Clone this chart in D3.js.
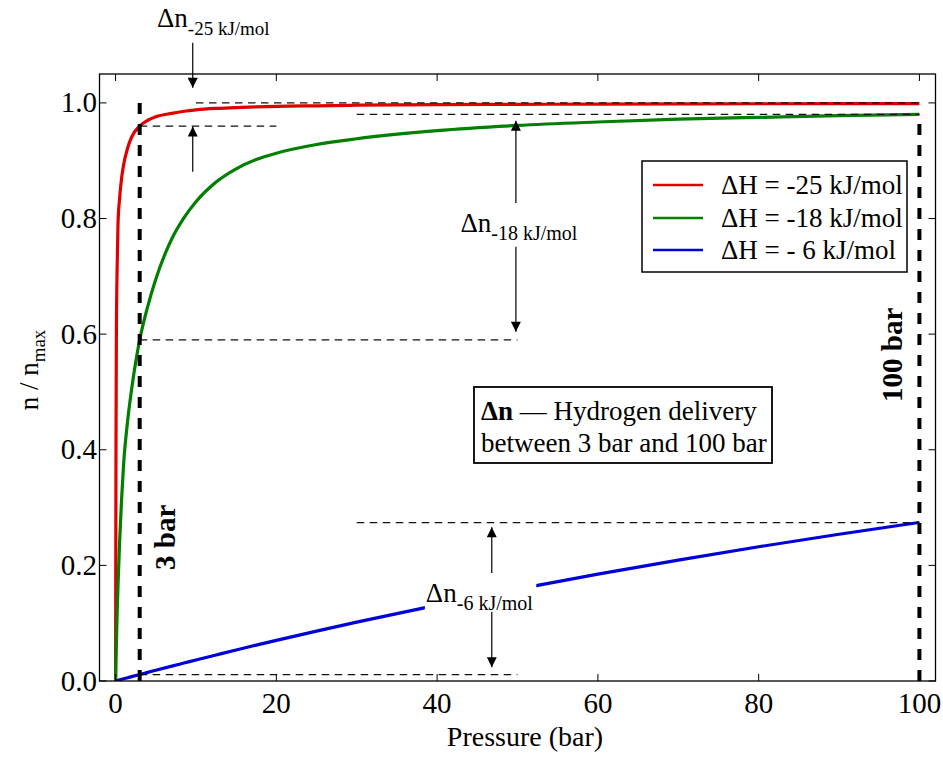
<!DOCTYPE html>
<html><head><meta charset="utf-8">
<script src="https://cdn.jsdelivr.net/npm/d3@7"></script>
<style>
body{margin:0;background:#fff;}
svg{display:block;}
text{font-family:"Liberation Serif","Times New Roman",serif;fill:#000;}
</style>
</head><body>
<svg id="c" width="943" height="759"></svg>
<script>
// ---------- data ----------
const pressure = [0, 0.05, 0.1, 0.2, 0.3, 0.5, 0.75, 1, 1.5, 2, 3, 4, 5, 7, 8.5, 10, 12.5, 15, 17.5, 20, 25, 30, 40, 50, 60, 70, 80, 90, 100];
const nRed   = [0, 0.40, 0.60, 0.72, 0.79, 0.835, 0.87, 0.893, 0.922, 0.941, 0.960, 0.970, 0.976, 0.982, 0.9855, 0.988, 0.9905, 0.992, 0.993, 0.994, 0.995, 0.996, 0.997, 0.9975, 0.998, 0.9982, 0.9985, 0.9986, 0.9988];
const nGreen = [0, 0.035, 0.065, 0.12, 0.165, 0.24, 0.315, 0.375, 0.45, 0.505, 0.59, 0.648, 0.695, 0.765, 0.801, 0.829, 0.863, 0.886, 0.902, 0.913, 0.928, 0.938, 0.952, 0.961, 0.967, 0.972, 0.975, 0.978, 0.980];
const nBlue  = [0, 0.0002, 0.0004, 0.0008, 0.0011, 0.0019, 0.0028, 0.0038, 0.0057, 0.0075, 0.0112, 0.0149, 0.0186, 0.0258, 0.0311, 0.0364, 0.0451, 0.0537, 0.0620, 0.0703, 0.0863, 0.1018, 0.1313, 0.159, 0.1849, 0.2092, 0.2322, 0.2538, 0.2743];
const seriesNames  = ["ΔH = -25 kJ/mol", "ΔH = -18 kJ/mol", "ΔH = - 6 kJ/mol"];
const seriesColors = ["#e00000", "#007f00", "#0000d8"];
const xTicks = [0, 20, 40, 60, 80, 100];
const yTicks = [0, 0.2, 0.4, 0.6, 0.8, 1.0];
const yTickLabels = ["0.0", "0.2", "0.4", "0.6", "0.8", "1.0"];
const xDomain = [-2, 102];
const yDomain = [0, 1.05];
// guide lines (data units): thin dashed horizontals
const guideY  = [1.0, 0.96, 0.98, 0.59, 0.274, 0.011];
const guideX1 = [10, 3, 30, 3, 30, 3];
const guideX2 = [100, 20, 100, 50, 100, 50];
// thick dashed verticals at 3 bar and 100 bar
const markP   = [3, 100];
const markTop = [1.0, 0.98];
const markLabels = ["3 bar", "100 bar"];
// arrows (data units)
const arrowX    = [9.6, 9.6, 49.8, 49.8, 46.8, 46.8];
const arrowFrom = [1.104, 0.881, 0.827, 0.751, 0.187, 0.128];
const arrowTo   = [1.026, 0.959, 0.969, 0.604, 0.266, 0.024];
// Δn labels
const dnSubs = ["-25 kJ/mol", "-18 kJ/mol", "-6 kJ/mol"];
const dnX = [5.15, 42.9, 38.6];
const dnY = [1.131, 0.777, 0.137];
const dnSubSize = [19, 20, 20];

// ---------- layout ----------
const svg = d3.select("#c");
const L = 99.5, R = 935.5, T = 74, B = 681;
const x = d3.scaleLinear().domain(xDomain).range([L, R]);
const y = d3.scaleLinear().domain(yDomain).range([B, T]);

const defs = svg.append("defs");
defs.append("clipPath").attr("id", "clip")
  .append("rect").attr("x", L).attr("y", T).attr("width", R - L).attr("height", B - T);
const marker = defs.append("marker").attr("id", "ah")
  .attr("viewBox", "0 0 10 10").attr("refX", 10).attr("refY", 5)
  .attr("markerWidth", 15).attr("markerHeight", 10).attr("markerUnits", "userSpaceOnUse")
  .attr("orient", "auto");
marker.append("path").attr("d", "M0,0 L10,5 L0,10 Z").attr("fill", "#000");

// curves
const series = [nRed, nGreen, nBlue];
const line = d3.line().x((d, i) => x(pressure[i])).y(d => y(d)).curve(d3.curveMonotoneX);
const gCurves = svg.append("g").attr("clip-path", "url(#clip)");
series.forEach((s, k) => {
  gCurves.append("path").attr("d", line(s)).attr("fill", "none")
    .attr("stroke", seriesColors[k]).attr("stroke-width", 3.2).attr("stroke-linejoin", "round");
});

// thin dashed guides
guideY.forEach((gy, i) => {
  svg.append("line").attr("x1", x(guideX1[i])).attr("x2", x(guideX2[i]))
    .attr("y1", y(gy)).attr("y2", y(gy))
    .attr("stroke", "#111").attr("stroke-width", 1.2).attr("stroke-dasharray", "7.5,5.5");
});

// thick dashed verticals
markP.forEach((p, i) => {
  svg.append("line").attr("x1", x(p)).attr("x2", x(p)).attr("y1", y(0)).attr("y2", y(markTop[i]))
    .attr("stroke", "#000").attr("stroke-width", 4).attr("stroke-dasharray", "11,10");
});

// arrows
arrowX.forEach((ax, i) => {
  svg.append("line").attr("x1", x(ax)).attr("x2", x(ax))
    .attr("y1", y(arrowFrom[i])).attr("y2", y(arrowTo[i]))
    .attr("stroke", "#000").attr("stroke-width", 1.2).attr("marker-end", "url(#ah)");
});

// Δn labels
dnSubs.forEach((sub, i) => {
  const g = svg.append("g");
  const bg = g.append("rect").attr("fill", "#fff");
  const t = g.append("text").attr("x", x(dnX[i])).attr("y", y(dnY[i])).style("font-size", "27px");
  t.append("tspan").text("Δn");
  t.append("tspan").attr("dy", 8).style("font-size", dnSubSize[i] + "px").text(sub);
  if (i === 2) {
    const bb = t.node().getBBox();
    bg.attr("x", bb.x - 1).attr("y", bb.y + 4).attr("width", bb.width + 4).attr("height", bb.height - 6);
  } else bg.remove();
});

// 3 bar / 100 bar labels
const markLabelPos = [[175, 570], [902, 402]];
markLabels.forEach((lab, i) => {
  svg.append("text").attr("transform", `translate(${markLabelPos[i][0]},${markLabelPos[i][1]}) rotate(-90)`)
    .style("font-size", "29px").style("font-weight", "bold").text(lab);
});

// frame
svg.append("rect").attr("x", L).attr("y", T).attr("width", R - L).attr("height", B - T)
  .attr("fill", "none").attr("stroke", "#000").attr("stroke-width", 1.3);

// ticks
const tk = 7;
xTicks.forEach(v => {
  svg.append("line").attr("x1", x(v)).attr("x2", x(v)).attr("y1", B).attr("y2", B - tk).attr("stroke", "#000").attr("stroke-width", 1);
  svg.append("line").attr("x1", x(v)).attr("x2", x(v)).attr("y1", T).attr("y2", T + tk).attr("stroke", "#000").attr("stroke-width", 1);
  svg.append("text").attr("x", x(v)).attr("y", 713).attr("text-anchor", "middle").style("font-size", "29px").text(v);
});
yTicks.forEach((v, i) => {
  svg.append("line").attr("x1", L).attr("x2", L + tk).attr("y1", y(v)).attr("y2", y(v)).attr("stroke", "#000").attr("stroke-width", 1);
  svg.append("line").attr("x1", R).attr("x2", R - tk).attr("y1", y(v)).attr("y2", y(v)).attr("stroke", "#000").attr("stroke-width", 1);
  svg.append("text").attr("x", 97).attr("y", y(v) + 9.5).attr("text-anchor", "end").style("font-size", "29px").text(yTickLabels[i]);
});

// axis titles
svg.append("text").attr("x", 525).attr("y", 746).attr("text-anchor", "middle").style("font-size", "28px").text("Pressure (bar)");
const yl = svg.append("text").attr("transform", "translate(38,370) rotate(-90)").attr("text-anchor", "middle").style("font-size", "27px");
yl.append("tspan").text("n / n");
yl.append("tspan").attr("dy", 7).style("font-size", "19px").text("max");

// legend
svg.append("rect").attr("x", 642).attr("y", 161).attr("width", 265).attr("height", 111)
  .attr("fill", "#fff").attr("stroke", "#000").attr("stroke-width", 1.5);
const legY = [185, 218, 250];
seriesNames.forEach((nm, k) => {
  svg.append("line").attr("x1", 653).attr("x2", 703).attr("y1", legY[k]).attr("y2", legY[k])
    .attr("stroke", seriesColors[k]).attr("stroke-width", 2.5);
  svg.append("text").attr("x", 721).attr("y", legY[k] + 9).style("font-size", "27px").text(nm);
});

// info box
svg.append("rect").attr("x", 474).attr("y", 387).attr("width", 298).attr("height", 76)
  .attr("fill", "#fff").attr("stroke", "#000").attr("stroke-width", 1.8);
const t1 = svg.append("text").attr("x", 481).attr("y", 420).style("font-size", "27px");
t1.append("tspan").style("font-weight", "bold").text("Δn");
t1.append("tspan").text(" — Hydrogen delivery");
svg.append("text").attr("x", 481).attr("y", 452).style("font-size", "27px").text("between 3 bar and 100 bar");
</script>
</body></html>
